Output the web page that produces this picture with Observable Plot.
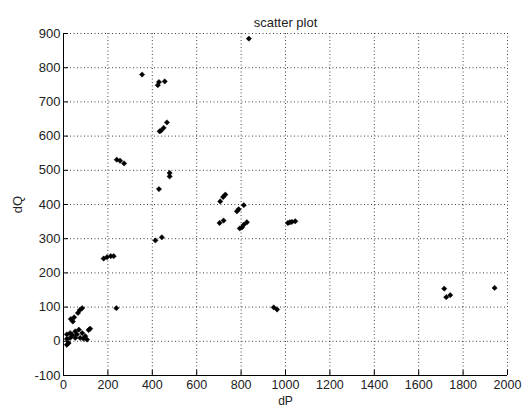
<!DOCTYPE html>
<html>
<head>
<meta charset="utf-8">
<script src="https://cdn.jsdelivr.net/npm/d3@7"></script>
<script src="https://cdn.jsdelivr.net/npm/@observablehq/plot@0.6"></script>
<style>
  html, body { margin: 0; padding: 0; background: #fff; }
  svg { display: block; }
</style>
</head>
<body>
<div id="chart"></div>
<script>
const title = "scatter plot";
const xLabel = "dP";
const yLabel = "dQ";
const xTicks = [0, 200, 400, 600, 800, 1000, 1200, 1400, 1600, 1800, 2000];
const yTicks = [-100, 0, 100, 200, 300, 400, 500, 600, 700, 800, 900];
const dP = [835, 354, 425, 430, 456, 433, 439, 451, 466, 240, 255, 273, 478, 478, 430,
  706, 719, 729, 781, 789, 812, 703, 721, 794, 804, 812, 826, 414, 443,
  181, 196, 213, 226, 238, 1011, 1029, 1044, 1020, 947, 962, 1715, 1724, 1742, 1942,
  84, 73, 65, 48, 33, 42, 120, 113, 15, 30, 53, 69, 84, 98, 106, 75, 53, 30, 15, 23, 15, 60, 40, 90];
const dQ = [885, 780, 749, 758, 760, 614, 616, 624, 640, 531, 528, 520, 492, 482, 445,
  409, 422, 429, 380, 386, 398, 346, 353, 330, 333, 341, 348, 295, 304,
  242, 246, 249, 249, 97, 346, 349, 351, 348, 99, 93, 154, 129, 135, 156,
  97, 91, 83, 70, 65, 58, 37, 33, 20, 24, 29, 34, 24, 15, 5, 10, 10, 10, 7, -5, -10, 20, 18, 8];

const points = dP.map((x, i) => ({x, y: dQ[i]}));
const font = "'Liberation Sans', Arial, sans-serif";

const chart = Plot.plot({
  width: 525,
  height: 407,
  marginLeft: 63,
  marginRight: 18,
  marginTop: 33,
  marginBottom: 32,
  style: {fontFamily: font, fontSize: "13px", color: "#222", background: "#fff"},
  x: {domain: [0, 2000]},
  y: {domain: [-100, 900]},
  marks: [
    Plot.gridX(xTicks, {stroke: "#000", strokeOpacity: 0.75, strokeDasharray: "1,2.5"}),
    Plot.gridY(yTicks, {stroke: "#000", strokeOpacity: 0.75, strokeDasharray: "1,2.5"}),
    Plot.axisX({ticks: xTicks, tickSize: -5, tickPadding: 10, stroke: "#000", tickFormat: d => String(d),
      label: null, fontSize: 12.5}),
    Plot.axisX({ticks: [], label: xLabel, labelAnchor: "center", labelArrow: "none", labelOffset: 29.5, fontSize: 12}),
    Plot.axisY({ticks: yTicks, tickSize: -5, tickPadding: 8, stroke: "#000", tickFormat: d => String(d),
      label: yLabel, labelAnchor: "center", labelArrow: "none", labelOffset: 51, fontSize: 13}),
    Plot.ruleX([0], {stroke: "#000"}),
    Plot.ruleY([-100], {stroke: "#000"}),
    Plot.dot(points, {x: "x", y: "y", symbol: "diamond2", r: 2.4, fill: "#000", stroke: "#000", strokeWidth: 0.5}),
    Plot.text([title], {frameAnchor: "top", dy: -16, fontSize: 13, fill: "#222"})
  ]
});
document.getElementById("chart").appendChild(chart);
</script>
</body>
</html>
